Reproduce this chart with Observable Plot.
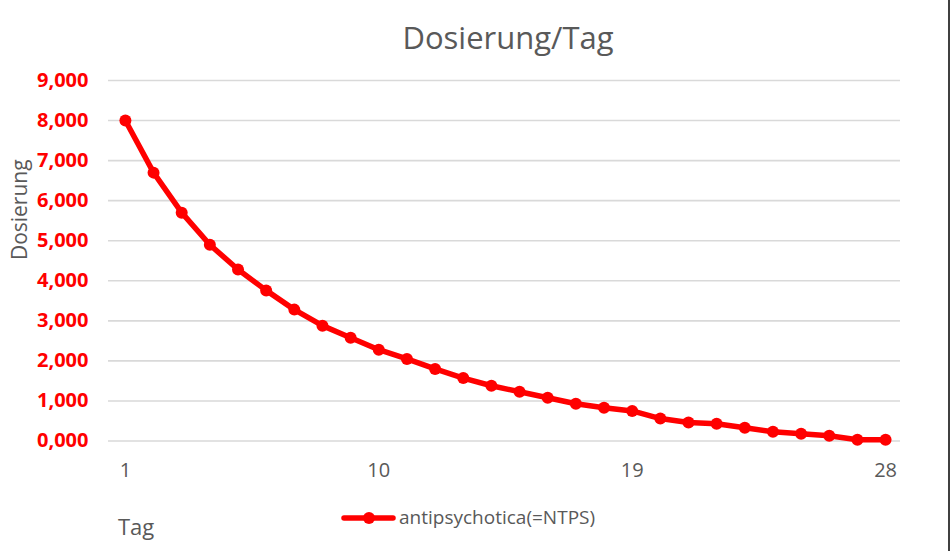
<!DOCTYPE html>
<html>
<head>
<meta charset="utf-8">
<script src="https://cdn.jsdelivr.net/npm/d3@7"></script>
<script src="https://cdn.jsdelivr.net/npm/@observablehq/plot@0.6"></script>
<style>
  html, body { margin: 0; padding: 0; background: #fff; }
  body { width: 950px; height: 551px; position: relative; overflow: hidden; font-family: "Open Sans", sans-serif; }
  #title { height: 62px; box-sizing: border-box; padding-top: 22px; padding-left: 66px; font-size: 31px; line-height: 31px; text-align: center; color: #595959; }
  #chart svg { display: block; }
  #below { position: relative; height: 51px; }
  #xlabel { position: absolute; left: 118px; top: 14.5px; font-size: 22px; line-height: 22px; color: #595959; }
  #legend { position: absolute; left: 341px; top: 0; height: 51px; }
  #legend svg { position: absolute; left: 0; top: 11px; }
  #legend span { position: absolute; left: 58px; top: 8px; font-size: 19px; line-height: 19px; color: #595959; white-space: nowrap; }
  #edge { position: absolute; left: 948px; top: 0; width: 2px; height: 551px; background: #404040; }
</style>
</head>
<body>
<div id="title">Dosierung/Tag</div>
<div id="chart"></div>
<div id="below">
  <div id="xlabel">Tag</div>
  <div id="legend"></div>
</div>
<div id="edge"></div>
<script>
const chartTitle = "Dosierung/Tag";
const yLabel = "Dosierung";
const xLabel = "Tag";
const seriesName = "antipsychotica(=NTPS)";
const days = [1,2,3,4,5,6,7,8,9,10,11,12,13,14,15,16,17,18,19,20,21,22,23,24,25,26,27,28];
const dose = [8.0, 6.7, 5.7, 4.9, 4.28, 3.76, 3.28, 2.88, 2.58, 2.28, 2.05, 1.8, 1.57, 1.38, 1.23, 1.08, 0.93, 0.83, 0.75, 0.56, 0.46, 0.43, 0.33, 0.23, 0.18, 0.13, 0.03, 0.03];
const xTicks = [1, 10, 19, 28];
const yTicks = [0, 1, 2, 3, 4, 5, 6, 7, 8, 9];

const red = "#FF0000";
const data = days.map((d, i) => ({day: d, dose: dose[i]}));
const deFormat = d3.formatLocale({decimal: ",", thousands: ".", grouping: [3], currency: ["", "€"]}).format(".3f");

const plot = Plot.plot({
  width: 950,
  height: 438,
  marginTop: 18,
  marginBottom: 59.5,
  marginLeft: 108,
  marginRight: 50,
  style: {fontFamily: "Open Sans, sans-serif", background: "#fff"},
  x: {domain: [0.4, 28.53]},
  y: {domain: [0, 9]},
  marks: [
    Plot.ruleY(yTicks, {stroke: "#d9d9d9", strokeWidth: 1.6}),
    Plot.axisY({ticks: yTicks, tickSize: 0, tickPadding: 20, tickFormat: deFormat, fill: red, fontWeight: "bold", fontSize: 20, label: null}),
    Plot.axisX({ticks: xTicks, tickSize: 0, tickPadding: 22, tickFormat: d => String(d), fill: "#595959", fontSize: 20, label: null}),
    Plot.text([yLabel], {text: d => d, frameAnchor: "left", rotate: -90, dx: -88, dy: -51, lineAnchor: "middle", textAnchor: "middle", fontSize: 21, fill: "#595959"}),
    Plot.line(data, {x: "day", y: "dose", stroke: red, strokeWidth: 5.5, strokeLinejoin: "round", strokeLinecap: "round"}),
    Plot.dot(data, {x: "day", y: "dose", r: 6, fill: red, stroke: "none"})
  ]
});
document.getElementById("chart").appendChild(plot);
document.getElementById("title").textContent = chartTitle;
document.getElementById("xlabel").textContent = xLabel;

const legend = document.getElementById("legend");
legend.innerHTML = `<svg width="56" height="14"><line x1="3" y1="7" x2="52" y2="7" stroke="${red}" stroke-width="5.5" stroke-linecap="round"/><circle cx="28" cy="7" r="6" fill="${red}"/></svg><span></span>`;
legend.querySelector("span").textContent = seriesName;
</script>
</body>
</html>
